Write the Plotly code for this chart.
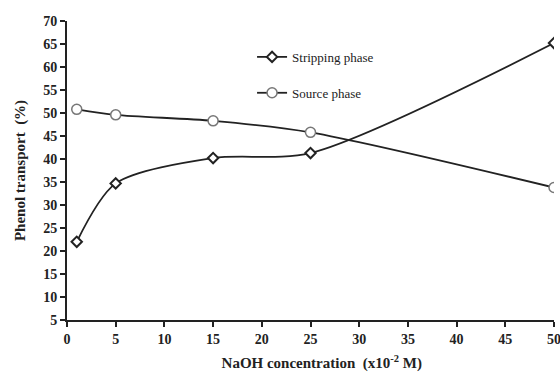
import plotly.graph_objects as go

x_vals = [1, 5, 15, 25, 50]
stripping = [22.0, 34.7, 40.2, 41.3, 65.2]
source = [50.8, 49.6, 48.3, 45.8, 33.8]
x_ticks = list(range(0, 51, 5))
y_ticks = list(range(5, 71, 5))

FONT = "Liberation Serif, Times New Roman, serif"
INK = "#222222"

fig = go.Figure()
fig.add_trace(go.Scatter(
    x=x_vals, y=stripping, name="Stripping phase", mode="lines+markers", legendgroup="a",
    line=dict(color=INK, width=1.8, shape="spline", smoothing=0.8),
    marker=dict(symbol="diamond", size=8, color="white", line=dict(color=INK, width=2)),
))
fig.add_trace(go.Scatter(
    x=x_vals, y=source, name="Source phase", mode="lines+markers", legendgroup="b",
    line=dict(color=INK, width=1.8, shape="spline", smoothing=0.8),
    marker=dict(symbol="circle", size=10, color="white", line=dict(color="#777777", width=1.5)),
))

fig.update_layout(
    width=560, height=376,
    margin=dict(l=67, r=6, t=21, b=56),
    paper_bgcolor="white", plot_bgcolor="white",
    font=dict(family=FONT, color=INK),
    showlegend=True,
    legend=dict(x=0.38, y=0.93, xanchor="left", yanchor="top",
                bgcolor="rgba(0,0,0,0)", font=dict(family=FONT, size=13, color=INK),
                tracegroupgap=16, itemwidth=30),
    xaxis=dict(range=[0, 50], tickvals=x_ticks, ticktext=[f"<b>{v}</b>" for v in x_ticks],
               ticks="outside", ticklen=5, tickwidth=2, ticklabeloverflow="allow",
               automargin=False,
               tickcolor=INK, showline=True, linecolor=INK, linewidth=2,
               showgrid=False, zeroline=False,
               tickfont=dict(family=FONT, size=14, color=INK, weight="bold"),
               title=dict(text="&nbsp;&nbsp;&nbsp;&nbsp;&nbsp;&nbsp;<b>NaOH concentration  (x10<sup>-2</sup> M)</b>",
                          font=dict(family=FONT, size=15, color=INK), standoff=12)),
    yaxis=dict(range=[5, 70], tickvals=y_ticks, ticktext=[f"<b>{v}</b>" for v in y_ticks],
               ticks="outside", ticklen=5, tickwidth=2, automargin=False,
               tickcolor=INK, showline=True, linecolor=INK, linewidth=2,
               showgrid=False, zeroline=False,
               tickfont=dict(family=FONT, size=14, color=INK, weight="bold"),
               title=dict(text="<b>Phenol transport  (%)</b>",
                          font=dict(family=FONT, size=15, color=INK), standoff=14)),
)

fig.write_html("out.html")
